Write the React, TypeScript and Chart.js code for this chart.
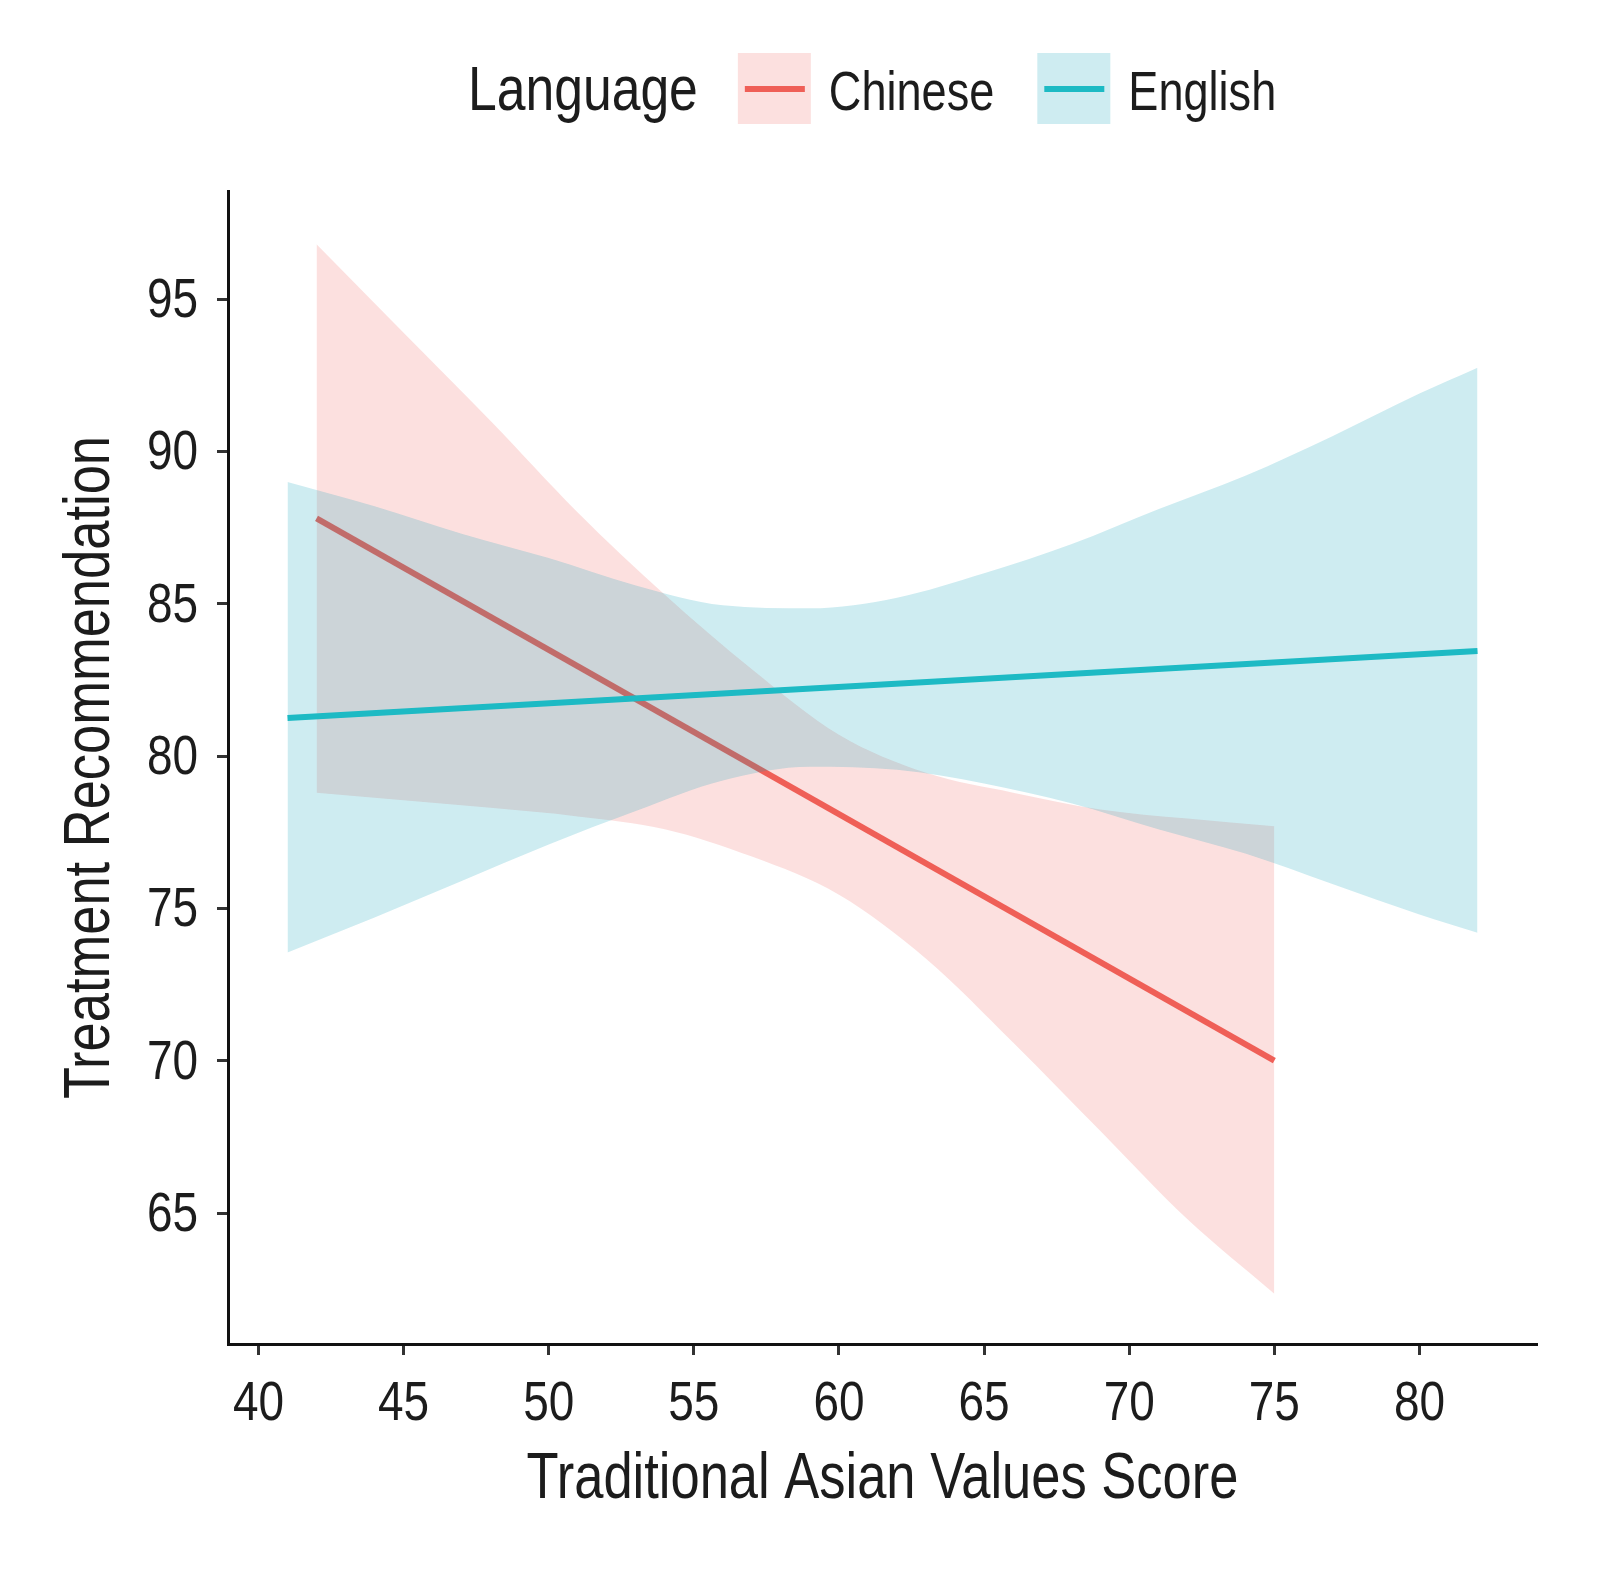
import { useEffect, useRef } from "react";
import Chart from "chart.js/auto";

// Liberation Sans squeezed horizontally stands in for Helvetica Narrow
const FONT = "'Liberation Sans', Arial, sans-serif";
const NARROW = 0.82;

const legendTitle = "Language";
const seriesNames = ["Chinese", "English"];
const xTitle = "Traditional Asian Values Score";
const yTitle = "Treatment Recommendation";
const xTicks = [40, 45, 50, 55, 60, 65, 70, 75, 80];
const yTicks = [65, 70, 75, 80, 85, 90, 95];

// fitted regression lines
const chineseLineX = [42, 75];
const chineseLineY = [87.8, 70.0];
const englishLineX = [41, 82];
const englishLineY = [81.25, 83.45];

// confidence bands
const chineseBandX = [42, 45, 48, 51, 54, 57, 60, 63, 66, 69, 72, 75];
const chineseUpper = [96.8, 93.9, 91.0, 88.0, 85.3, 82.85, 80.7, 79.45, 78.8, 78.25, 77.95, 77.7];
const chineseLower = [78.8, 78.55, 78.3, 78.02, 77.6, 76.7, 75.45, 73.35, 70.6, 67.7, 64.8, 62.35];

const englishBandX = [41, 44, 47, 50, 53, 56, 59, 62, 65, 68, 71, 74, 77, 80, 82];
const englishUpper = [89.0, 88.2, 87.3, 86.5, 85.6, 84.95, 84.85, 85.2, 86.0, 86.95, 88.1, 89.2, 90.5, 91.9, 92.75];
const englishLower = [73.55, 74.7, 75.9, 77.1, 78.2, 79.2, 79.65, 79.55, 79.1, 78.45, 77.6, 76.8, 75.8, 74.8, 74.2];

const LINE_COLORS = ["#EF5F57", "#1DBAC4"];
const FILL_COLORS = ["rgba(240, 100, 95, 0.2)", "rgba(10, 160, 185, 0.2)"];
const TEXT = "#1c1c1c";

const toPoints = (xs: number[], ys: number[]) => xs.map((x, i) => ({ x, y: ys[i] }));

function narrowText(
  ctx: CanvasRenderingContext2D,
  text: string,
  x: number,
  y: number,
  size: number,
  align: CanvasTextAlign,
  rotation = 0
) {
  ctx.save();
  ctx.translate(x, y);
  if (rotation) ctx.rotate(rotation);
  ctx.scale(NARROW, 1);
  ctx.font = `${size}px ${FONT}`;
  ctx.fillStyle = TEXT;
  ctx.textAlign = align;
  ctx.textBaseline = "alphabetic";
  ctx.fillText(text, 0, 0);
  ctx.restore();
}

function narrowWidth(ctx: CanvasRenderingContext2D, text: string, size: number) {
  ctx.save();
  ctx.font = `${size}px ${FONT}`;
  const w = ctx.measureText(text).width * NARROW;
  ctx.restore();
  return w;
}

// tick labels and axis titles, placed with the chart's own scales
const axisTextPlugin = {
  id: "axisText",
  afterDraw(chart: Chart) {
    const { ctx, chartArea, scales } = chart;
    const xs = scales.x;
    const ys = scales.y;
    xTicks.forEach((v) => {
      narrowText(ctx, String(v), xs.getPixelForValue(v), chartArea.bottom + 76, 56, "center");
    });
    yTicks.forEach((v) => {
      narrowText(ctx, String(v), chartArea.left - 30, ys.getPixelForValue(v) + 18, 56, "right");
    });
    narrowText(ctx, xTitle, (chartArea.left + chartArea.right) / 2, chartArea.bottom + 154, 64, "center");
    narrowText(ctx, yTitle, chartArea.left - 119, (chartArea.top + chartArea.bottom) / 2, 64, "center", -Math.PI / 2);
  },
};

const legendPlugin = {
  id: "ggLegend",
  afterDraw(chart: Chart) {
    const { ctx } = chart;
    const baseline = 110;
    let x = 468;
    narrowText(ctx, legendTitle, x, baseline, 63, "left");
    x += narrowWidth(ctx, legendTitle, 63) + 40;
    seriesNames.forEach((name, i) => {
      ctx.save();
      ctx.fillStyle = FILL_COLORS[i];
      ctx.fillRect(x, 53, 73, 71);
      ctx.strokeStyle = LINE_COLORS[i];
      ctx.lineWidth = 6;
      ctx.beginPath();
      ctx.moveTo(x + 7, 89);
      ctx.lineTo(x + 67, 89);
      ctx.stroke();
      ctx.restore();
      x += 73 + 18;
      narrowText(ctx, name, x, baseline, 55, "left");
      x += narrowWidth(ctx, name, 55) + 43;
    });
  },
};

export default function App() {
  const chartRef = useRef<HTMLCanvasElement>(null);
  const chartInstance = useRef<Chart | null>(null);

  useEffect(() => {
    if (!chartRef.current) return;
    document.body.style.margin = "0";

    if (chartInstance.current) {
      chartInstance.current.destroy();
    }

    const ctx = chartRef.current.getContext("2d");
    if (!ctx) return;

    const bandLine = {
      borderWidth: 0,
      borderColor: "transparent",
      pointRadius: 0,
      cubicInterpolationMode: "monotone" as const,
    };

    const tickGrid = {
      display: true,
      drawOnChartArea: false,
      drawTicks: true,
      tickLength: 11,
      tickWidth: 3,
      tickColor: "#333",
    };

    chartInstance.current = new Chart(ctx, {
      type: "line",
      data: {
        datasets: [
          {
            label: seriesNames[1],
            data: toPoints(englishLineX, englishLineY),
            borderColor: LINE_COLORS[1],
            borderWidth: 6,
            pointRadius: 0,
            fill: false,
            order: 0,
          },
          {
            label: "English upper",
            data: toPoints(englishBandX, englishUpper),
            ...bandLine,
            fill: "+1",
            backgroundColor: FILL_COLORS[1],
            order: 1,
          },
          {
            label: "English lower",
            data: toPoints(englishBandX, englishLower),
            ...bandLine,
            fill: false,
            order: 1,
          },
          {
            label: seriesNames[0],
            data: toPoints(chineseLineX, chineseLineY),
            borderColor: LINE_COLORS[0],
            borderWidth: 6,
            pointRadius: 0,
            fill: false,
            order: 2,
          },
          {
            label: "Chinese upper",
            data: toPoints(chineseBandX, chineseUpper),
            ...bandLine,
            fill: "+1",
            backgroundColor: FILL_COLORS[0],
            order: 3,
          },
          {
            label: "Chinese lower",
            data: toPoints(chineseBandX, chineseLower),
            ...bandLine,
            fill: false,
            order: 3,
          },
        ],
      },
      options: {
        responsive: true,
        maintainAspectRatio: false,
        animation: false,
        layout: {
          padding: { top: 191, right: 63, left: 0, bottom: 0 },
        },
        plugins: {
          legend: { display: false },
          tooltip: { enabled: false },
        },
        scales: {
          x: {
            type: "linear",
            position: "bottom",
            min: 38.95,
            max: 84.05,
            afterBuildTicks: (scale) => {
              scale.ticks = xTicks.map((v) => ({ value: v }));
            },
            afterFit: (scale) => {
              scale.height = 226;
            },
            grid: tickGrid,
            border: { display: true, color: "#111", width: 3 },
            ticks: { display: false },
            title: { display: false },
          },
          y: {
            type: "linear",
            min: 60.7,
            max: 98.55,
            afterBuildTicks: (scale) => {
              scale.ticks = yTicks.map((v) => ({ value: v }));
            },
            afterFit: (scale) => {
              scale.width = 228;
            },
            grid: tickGrid,
            border: { display: true, color: "#111", width: 3 },
            ticks: { display: false },
            title: { display: false },
          },
        },
      },
      plugins: [axisTextPlugin, legendPlugin],
    });

    return () => {
      if (chartInstance.current) {
        chartInstance.current.destroy();
        chartInstance.current = null;
      }
    };
  }, []);

  return (
    <div style={{ position: "absolute", left: 0, top: 0, width: 1600, height: 1570, background: "#fff" }}>
      <canvas ref={chartRef}></canvas>
    </div>
  );
}
